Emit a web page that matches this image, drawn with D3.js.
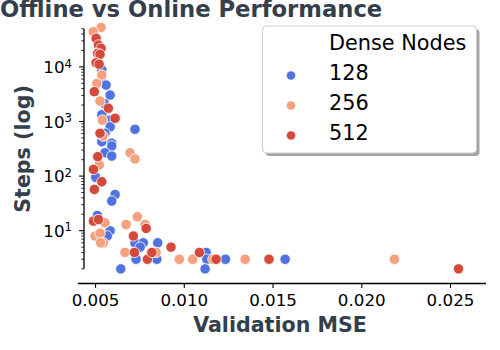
<!DOCTYPE html>
<html>
<head>
<meta charset="utf-8">
<script src="https://cdn.jsdelivr.net/npm/d3@7"></script>
<style>
body { margin: 0; background: #fff; }
text { font-family: "DejaVu Sans", sans-serif; }
</style>
</head>
<body>
<div id="chart"></div>
<script>
var groups = ["128", "256", "512"];
var colors = ["#5073e0", "#f5a180", "#d4493b"];

var mse128 = [0.00538, 0.00538, 0.00562, 0.00585, 0.00552, 0.00538, 0.00581, 0.00585, 0.00556, 0.00725, 0.00538,
    0.00594, 0.00594, 0.00556, 0.00594, 0.00504, 0.00613, 0.00594, 0.00513, 0.00585, 0.00569, 0.00725, 0.00772,
    0.00754, 0.00853, 0.00731, 0.00848, 0.00645, 0.01126, 0.0113, 0.0112, 0.01235, 0.01571];
var steps128 = [8800, 5350, 4650, 3050, 2150, 1330, 1060, 800, 610, 720, 427,
    400, 356, 268, 233, 95, 46, 35, 19, 10, 8, 6, 6,
    5, 6, 3, 3, 2, 4, 3, 2, 3, 3];

var mse256 = [0.00534, 0.0049, 0.00538, 0.0051, 0.00528, 0.00541, 0.00545, 0.00697, 0.00725, 0.00524, 0.00556,
    0.005, 0.00528, 0.00547, 0.00531, 0.00675, 0.00738, 0.00782, 0.00669, 0.00844, 0.00975, 0.0105, 0.01164,
    0.01346, 0.02187];
var steps256 = [53000, 44000, 7100, 5000, 2370, 1065, 540, 268, 206, 160, 14,
    8, 9, 6, 6, 13, 18, 13, 4, 4, 3, 3, 3,
    3, 3];

var mse512 = [0.00506, 0.00519, 0.00534, 0.00515, 0.00528, 0.00506, 0.00523, 0.00496, 0.00575, 0.00613, 0.00528,
    0.00515, 0.00491, 0.00538, 0.00496, 0.00491, 0.00519, 0.00716, 0.00788, 0.00722, 0.00795, 0.0082, 0.00928,
    0.01088, 0.01182, 0.0148, 0.02548];
var steps512 = [33400, 25200, 21900, 17700, 17000, 11900, 11200, 3520, 1750, 1145, 608,
    227, 133, 79, 57, 15, 16, 8, 11, 4, 3, 4, 5,
    4, 3, 3, 2];

var xTicks = [0.005, 0.010, 0.015, 0.020, 0.025];
var yTicks = [10, 100, 1000, 10000];

var width = 500, height = 350;
var titleColor = "#333f4b";

var svg = d3.select("#chart")
    .append("svg")
    .attr("width", width)
    .attr("height", height);

var x = d3.scaleLinear().domain([0.004, 0.027]).range([77.3, 485.5]);
var y = d3.scaleLog().domain([1, 100000]).range([285.3, 12.3]);

// x axis (offset below the data area)
var xAxis = svg.append("g")
    .attr("transform", "translate(0,283)")
    .call(d3.axisBottom(x).tickValues(xTicks).tickFormat(d3.format(".3f"))
        .tickSizeInner(4.9).tickSizeOuter(0).tickPadding(6));
xAxis.select(".domain").attr("stroke", "#000").attr("stroke-width", 1.3);
xAxis.selectAll(".tick line").attr("stroke", "#000").attr("stroke-width", 1.1);
xAxis.selectAll(".tick text").attr("font-size", "16.7px").attr("fill", "#000")
    .attr("font-family", "DejaVu Sans");

// y axis, spine trimmed to 2 .. 50000
var yg = svg.append("g").attr("transform", "translate(84,0)");
yg.append("line")
    .attr("y1", y(2)).attr("y2", y(50000))
    .attr("stroke", "#000").attr("stroke-width", 1.3);

var minor = [];
[1, 10, 100, 1000, 10000].forEach(function (d) {
    for (var k = 2; k <= 9; k++) {
        if (d * k <= 50000) minor.push(d * k);
    }
});
yg.selectAll(".minor")
    .data(minor)
    .enter()
    .append("line")
    .attr("x1", -2.8).attr("x2", 0)
    .attr("y1", function (d) { return y(d); })
    .attr("y2", function (d) { return y(d); })
    .attr("stroke", "#000").attr("stroke-width", 0.8);

var major = yg.selectAll(".major")
    .data(yTicks)
    .enter()
    .append("g")
    .attr("transform", function (d) { return "translate(0," + y(d) + ")"; });
major.append("line").attr("x1", -4.9).attr("x2", 0)
    .attr("stroke", "#000").attr("stroke-width", 1.1);
var lab = major.append("text")
    .attr("x", -12)
    .attr("dy", "0.36em")
    .attr("text-anchor", "end")
    .attr("font-size", "16.7px")
    .attr("fill", "#000");
lab.append("tspan").text("10");
lab.append("tspan")
    .attr("dy", "-0.45em")
    .attr("font-size", "11.7px")
    .text(function (d) { return Math.round(Math.log10(d)); });

// points
var series = [
    { mse: mse128, steps: steps128 },
    { mse: mse256, steps: steps256 },
    { mse: mse512, steps: steps512 }
];
series.forEach(function (s, i) {
    svg.append("g")
        .selectAll("circle")
        .data(s.mse)
        .enter()
        .append("circle")
        .attr("cx", function (d) { return x(d); })
        .attr("cy", function (d, j) { return y(s.steps[j]); })
        .attr("r", 5.2)
        .attr("fill", colors[i])
        .attr("stroke", "#fff")
        .attr("stroke-width", 0.8);
});

// titles
svg.append("text")
    .attr("x", 0).attr("y", 17)
    .attr("font-size", "22.7px").attr("font-weight", "bold")
    .attr("fill", titleColor)
    .text("Offline vs Online Performance");

svg.append("text")
    .attr("x", 280).attr("y", 332)
    .attr("text-anchor", "middle")
    .attr("font-size", "20.6px").attr("font-weight", "bold")
    .attr("fill", titleColor)
    .text("Validation MSE");

svg.append("text")
    .attr("transform", "translate(30,149) rotate(-90)")
    .attr("text-anchor", "middle")
    .attr("font-size", "20.6px").attr("font-weight", "bold")
    .attr("fill", titleColor)
    .text("Steps (log)");

// legend
var lg = svg.append("g").attr("transform", "translate(262.5,26)");
lg.append("rect")
    .attr("x", 3).attr("y", 3)
    .attr("width", 214).attr("height", 127).attr("rx", 4)
    .attr("fill", "#000").attr("opacity", 0.35);
lg.append("rect")
    .attr("width", 214).attr("height", 127).attr("rx", 4)
    .attr("fill", "#fff").attr("stroke", "#cccccc").attr("stroke-width", 1);
lg.append("text")
    .attr("x", 66.5).attr("y", 24)
    .attr("font-size", "20.8px").attr("fill", "#000")
    .text("Dense Nodes");
var items = lg.selectAll(".item")
    .data(groups)
    .enter()
    .append("g")
    .attr("transform", function (d, i) { return "translate(0," + (54 + i * 30) + ")"; });
items.append("circle")
    .attr("cx", 28.5).attr("cy", -4.5).attr("r", 4.6)
    .attr("fill", function (d, i) { return colors[i]; })
    .attr("stroke", "#fff").attr("stroke-width", 0.6);
items.append("text")
    .attr("x", 66.5)
    .attr("font-size", "20.8px").attr("fill", "#000")
    .text(function (d) { return d; });
</script>
</body>
</html>
